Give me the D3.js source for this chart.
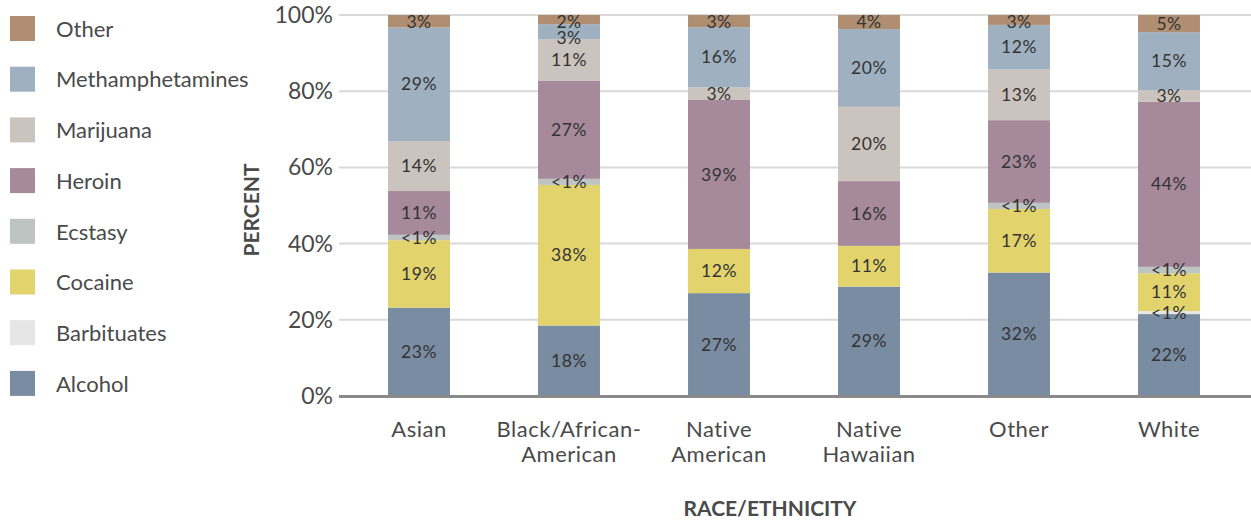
<!DOCTYPE html>
<html>
<head>
<meta charset="utf-8">
<script src="https://cdn.jsdelivr.net/npm/d3@7"></script>
<style>
  body { margin: 0; background: #fff; }
  svg text { font-family: Lato, "Open Sans", sans-serif; }
</style>
</head>
<body>
<div id="chart"></div>
<script>
// stacked bars, drug share by race/ethnicity
var races = ["Asian", "Black/African-|American", "Native|American", "Native|Hawaiian", "Other", "White"];
var drugs = ["Alcohol", "Barbituates", "Cocaine", "Ecstasy", "Heroin", "Marijuana", "Methamphetamines", "Other"];
var colors = ["#798ca1", "#e6e6e6", "#e2d36d", "#bec4c2", "#a6899b", "#cbc3bd", "#9fb1c1", "#b08e72"];

// segment sizes (percent)
var alcohol     = [23.2, 18.5, 27.0, 28.7, 32.4, 21.5];
var barbituates = [0, 0, 0, 0, 0, 0.8];
var cocaine     = [17.7, 36.9, 11.6, 10.7, 16.7, 9.9];
var ecstasy     = [1.4, 1.6, 0, 0, 1.6, 1.7];
var heroin      = [11.5, 25.7, 39.1, 17.0, 21.7, 43.3];
var marijuana   = [13.1, 11.0, 3.3, 19.5, 13.3, 3.1];
var meth        = [29.8, 3.9, 15.8, 20.4, 11.7, 15.2];
var other       = [3.3, 2.4, 3.2, 3.7, 2.6, 4.5];

// printed labels
var alcoholLbl     = ["23%", "18%", "27%", "29%", "32%", "22%"];
var barbituatesLbl = ["", "", "", "", "", "<1%"];
var cocaineLbl     = ["19%", "38%", "12%", "11%", "17%", "11%"];
var ecstasyLbl     = ["<1%", "<1%", "", "", "<1%", "<1%"];
var heroinLbl      = ["11%", "27%", "39%", "16%", "23%", "44%"];
var marijuanaLbl   = ["14%", "11%", "3%", "20%", "13%", "3%"];
var methLbl        = ["29%", "3%", "16%", "20%", "12%", "15%"];
var otherLbl       = ["3%", "2%", "3%", "4%", "3%", "5%"];

var yTicks = [0, 20, 40, 60, 80, 100];

var series = [alcohol, barbituates, cocaine, ecstasy, heroin, marijuana, meth, other];
var labels = [alcoholLbl, barbituatesLbl, cocaineLbl, ecstasyLbl, heroinLbl, marijuanaLbl, methLbl, otherLbl];

var width = 1251, height = 521;

var svg = d3.select("#chart")
  .append("svg")
  .attr("width", width)
  .attr("height", height);

var rows = races.map(function(r, i) {
  var row = { race: r };
  drugs.forEach(function(d, j) { row[d] = series[j][i]; });
  return row;
});

var stack = d3.stack().keys(drugs)(rows);

var x = d3.scaleBand()
  .domain(races)
  .range([344, 1244])
  .paddingInner(0.587)
  .paddingOuter(0.2935);

var y = d3.scaleLinear()
  .domain([0, 100])
  .range([396, 15]);

// gridlines
svg.append("g")
  .selectAll("line")
  .data(yTicks.filter(function(t) { return t > 0; }))
  .enter()
  .append("line")
  .attr("x1", 339)
  .attr("x2", width)
  .attr("y1", function(d) { return y(d); })
  .attr("y2", function(d) { return y(d); })
  .attr("stroke", "#d9d9d9")
  .attr("stroke-width", 2);

// y tick labels
svg.append("g")
  .selectAll("text")
  .data(yTicks)
  .enter()
  .append("text")
  .attr("x", 333)
  .attr("y", function(d) { return y(d); })
  .attr("dy", "0.35em")
  .attr("text-anchor", "end")
  .attr("font-size", 23)
  .attr("fill", "#4a4a4a")
  .text(function(d) { return d + "%"; });

// bars
var layers = svg.append("g")
  .selectAll("g")
  .data(stack)
  .enter()
  .append("g")
  .attr("fill", function(d, i) { return colors[i]; });

layers.selectAll("rect")
  .data(function(d) { return d; })
  .enter()
  .append("rect")
  .attr("x", function(d) { return x(d.data.race); })
  .attr("width", x.bandwidth())
  .attr("y", function(d) { return y(d[1]); })
  .attr("height", function(d) { return y(d[0]) - y(d[1]); });

// baseline
svg.append("line")
  .attr("x1", 339)
  .attr("x2", width)
  .attr("y1", y(0) + 0.5)
  .attr("y2", y(0) + 0.5)
  .attr("stroke", "#8a8a8a")
  .attr("stroke-width", 3);

// value labels: centred in segment, walked top-down so they don't pile up
var labelPos = [];
races.forEach(function(r, i) {
  var prev = null;
  for (var j = drugs.length - 1; j >= 0; j--) {
    if (!labels[j][i]) continue;
    var seg = stack[j][i];
    var cy = (y(seg[0]) + y(seg[1])) / 2;
    if (prev === null) cy = Math.max(cy, y(100) + 7);
    else cy = Math.max(cy, prev + 16);
    prev = cy;
    labelPos.push({ x: x(r) + x.bandwidth() / 2, y: cy, text: labels[j][i] });
  }
});

svg.append("g")
  .selectAll("text")
  .data(labelPos)
  .enter()
  .append("text")
  .attr("x", function(d) { return d.x; })
  .attr("y", function(d) { return d.y; })
  .attr("dy", "0.35em")
  .attr("text-anchor", "middle")
  .attr("font-size", 17.5)
  .attr("letter-spacing", 0.5)
  .attr("fill", "#333")
  .text(function(d) { return d.text; });

// x labels
var xl = svg.append("g")
  .selectAll("text")
  .data(races)
  .enter()
  .append("text")
  .attr("x", function(d) { return x(d) + x.bandwidth() / 2; })
  .attr("y", 437)
  .attr("text-anchor", "middle")
  .attr("font-size", 22)
  .attr("letter-spacing", 0.5)
  .attr("fill", "#4a4a4a");

xl.selectAll("tspan")
  .data(function(d) { return d.split("|"); })
  .enter()
  .append("tspan")
  .attr("x", function() { return d3.select(this.parentNode).attr("x"); })
  .attr("dy", function(d, i) { return i ? 25 : 0; })
  .text(function(d) { return d; });

// axis titles
svg.append("text")
  .attr("x", 770)
  .attr("y", 516)
  .attr("text-anchor", "middle")
  .attr("font-size", 21)
  .attr("font-weight", "bold")
  .attr("fill", "#4a4a4a")
  .text("RACE/ETHNICITY");

svg.append("text")
  .attr("transform", "translate(259,210) rotate(-90)")
  .attr("text-anchor", "middle")
  .attr("font-size", 21)
  .attr("font-weight", "bold")
  .attr("fill", "#4a4a4a")
  .text("PERCENT");

// legend, top item = last series
var legend = svg.append("g")
  .selectAll("g")
  .data(drugs.slice().reverse())
  .enter()
  .append("g")
  .attr("transform", function(d, i) { return "translate(10," + (16 + i * 50.7) + ")"; });

legend.append("rect")
  .attr("width", 25)
  .attr("height", 25)
  .attr("fill", function(d) { return colors[drugs.indexOf(d)]; });

legend.append("text")
  .attr("x", 46)
  .attr("y", 13)
  .attr("dy", "0.35em")
  .attr("font-size", 22)
  .attr("fill", "#4a4a4a")
  .text(function(d) { return d; });
</script>
</body>
</html>
